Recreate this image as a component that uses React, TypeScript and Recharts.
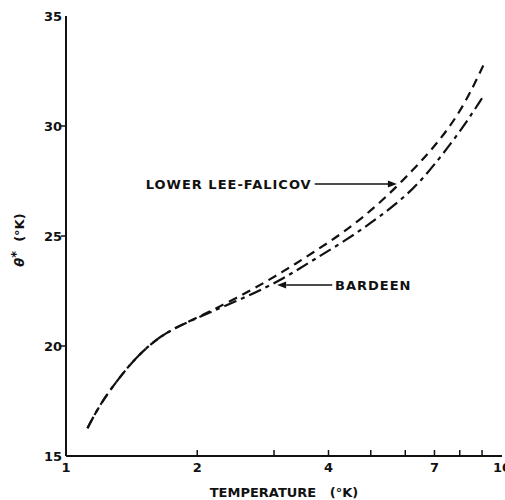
import React from "react"
import {
  LineChart,
  Line,
  XAxis,
  YAxis,
  ReferenceLine,
  ReferenceDot,
  Label,
} from "recharts"

// temperature (°K), log axis
const TEMPS = [1.12, 1.2, 1.33, 1.45, 1.63, 1.83, 2.14, 2.64, 3.15, 3.69, 4.4, 5.25, 6.26, 7.21, 8.15, 9.06]
// theta* (°K)
const LOWER_LEE_FALICOV = [16.26, 17.4, 18.6, 19.5, 20.4, 20.95, 21.56, 22.5, 23.38, 24.25, 25.25, 26.49, 28.0, 29.35, 30.85, 32.75]
const BARDEEN = [16.26, 17.4, 18.6, 19.5, 20.4, 20.95, 21.53, 22.3, 23.05, 23.91, 24.82, 25.88, 27.09, 28.55, 29.95, 31.35]

const X_TICKS = [1, 2, 3, 4, 5, 6, 7, 8, 9, 10]
const X_LABELS = [1, 2, 4, 7, 10]
const Y_TICKS = [15, 20, 25, 30, 35]

const FONT = "'DejaVu Sans', sans-serif"
const INK = "#111"

const rows = TEMPS.map((t, i) => ({ t, llf: LOWER_LEE_FALICOV[i], bardeen: BARDEEN[i] }))

function BottomTick(props: any) {
  const { x, y, payload } = props
  const v = payload.value
  return (
    <g>
      {v > 1 && v < 10 && <line x1={x} x2={x} y1={y} y2={y - 6} stroke={INK} strokeWidth={1.5} />}
      {X_LABELS.includes(v) && (
        <text x={x} y={y + 16} textAnchor="middle" fontFamily={FONT} fontWeight="bold" fontSize={13} fill={INK}>
          {v}
        </text>
      )}
    </g>
  )
}

function TopTick(props: any) {
  const { x, y, payload } = props
  const v = payload.value
  if (v <= 1 || v >= 10) return <g />
  return <line x1={x} x2={x} y1={y} y2={y + 7} stroke={INK} strokeWidth={1.5} />
}

function LeftTick(props: any) {
  const { x, y, payload } = props
  const v = payload.value
  return (
    <g>
      {v > 15 && v < 35 && <line x1={x} x2={x - 5} y1={y} y2={y} stroke={INK} strokeWidth={1.5} />}
      <text x={x - 4} y={y + 5} textAnchor="end" fontFamily={FONT} fontWeight="bold" fontSize={13} fill={INK}>
        {v}
      </text>
    </g>
  )
}

function RightTick(props: any) {
  const { x, y, payload } = props
  const v = payload.value
  if (v <= 15 || v >= 35) return <g />
  return <line x1={x} x2={x - 7} y1={y} y2={y} stroke={INK} strokeWidth={1.5} />
}

const arrowRight = (p: any) => (
  <path d={`M${p.cx},${p.cy} L${p.cx - 9},${p.cy - 3.5} L${p.cx - 9},${p.cy + 3.5} Z`} fill={INK} />
)
const arrowLeft = (p: any) => (
  <path d={`M${p.cx},${p.cy} L${p.cx + 9},${p.cy - 3.5} L${p.cx + 9},${p.cy + 3.5} Z`} fill={INK} />
)
const textEnd = (label: string) => (p: any) => (
  <text x={p.cx} y={p.cy + 5} textAnchor="end" fontFamily={FONT} fontWeight="bold" fontSize={13} letterSpacing={1} fill={INK}>
    {label}
  </text>
)
const textStart = (label: string) => (p: any) => (
  <text x={p.cx} y={p.cy + 5} textAnchor="start" fontFamily={FONT} fontWeight="bold" fontSize={13} letterSpacing={1} fill={INK}>
    {label}
  </text>
)

export default function App() {
  return (
    <div style={{ position: "absolute", left: 0, top: 0, width: 505, height: 500, background: "#fff" }}>
      <LineChart width={505} height={500} data={rows} margin={{ top: 16, right: 3, left: 0, bottom: 0 }}>
        <XAxis
          dataKey="t"
          type="number"
          scale="log"
          domain={[1, 10]}
          allowDataOverflow
          ticks={X_TICKS}
          interval={0}
          height={44}
          tickSize={0}
          tickMargin={0}
          tick={(p: any) => <BottomTick {...p} />}
          axisLine={{ stroke: INK, strokeWidth: 2 }}
        >
          <Label
            content={(p: any) => {
              const vb = p.viewBox || { x: 66, y: 456, width: 436 }
              return (
                <text
                  x={vb.x + vb.width / 2}
                  y={vb.y + 41}
                  textAnchor="middle"
                  fontFamily={FONT}
                  fontWeight="bold"
                  fontSize={13}
                  fill={INK}
                  style={{ whiteSpace: "pre" }}
                >
                  {"TEMPERATURE   (°K)"}
                </text>
              )
            }}
          />
        </XAxis>
        <XAxis
          xAxisId="top"
          orientation="top"
          dataKey="t"
          type="number"
          scale="log"
          domain={[1, 10]}
          allowDataOverflow
          ticks={X_TICKS}
          interval={0}
          height={0}
          tickSize={0}
          tickMargin={0}
          tick={(p: any) => <TopTick {...p} />}
          axisLine={{ stroke: INK, strokeWidth: 2 }}
        />
        <YAxis
          type="number"
          domain={[15, 35]}
          ticks={Y_TICKS}
          interval={0}
          width={66}
          tickSize={0}
          tickMargin={0}
          tick={(p: any) => <LeftTick {...p} />}
          axisLine={{ stroke: INK, strokeWidth: 2 }}
        >
          <Label
            content={(p: any) => {
              const vb = p.viewBox || { x: 0, y: 16, width: 66, height: 440 }
              const cx = vb.x + 24
              const cy = vb.y + vb.height / 2 + 4
              return (
                <text
                  x={cx}
                  y={cy}
                  transform={`rotate(-90 ${cx} ${cy})`}
                  textAnchor="middle"
                  fontFamily={FONT}
                  fontWeight="bold"
                  fontSize={13}
                  fill={INK}
                  style={{ whiteSpace: "pre" }}
                >
                  <tspan fontStyle="italic">θ</tspan>
                  <tspan dy={-4}>*</tspan>
                  <tspan dy={4}>{"  (°K)"}</tspan>
                </text>
              )
            }}
          />
        </YAxis>
        <YAxis
          yAxisId="right"
          orientation="right"
          type="number"
          domain={[15, 35]}
          ticks={Y_TICKS}
          interval={0}
          width={0}
          tickSize={0}
          tickMargin={0}
          tick={(p: any) => <RightTick {...p} />}
          axisLine={{ stroke: INK, strokeWidth: 2 }}
        />

        <Line
          dataKey="bardeen"
          type="basis"
          stroke={INK}
          strokeWidth={2.2}
          strokeDasharray="13 5 4 5"
          dot={false}
          isAnimationActive={false}
        />
        <Line
          dataKey="llf"
          type="basis"
          stroke={INK}
          strokeWidth={2.2}
          strokeDasharray="9 6"
          dot={false}
          isAnimationActive={false}
        />

        <ReferenceLine segment={[{ x: 3.72, y: 27.36 }, { x: 5.55, y: 27.36 }]} stroke={INK} strokeWidth={1.5} />
        <ReferenceDot x={5.74} y={27.36} r={0} shape={arrowRight} />
        <ReferenceDot x={3.66} y={27.36} r={0} shape={textEnd("LOWER LEE-FALICOV")} />

        <ReferenceLine segment={[{ x: 4.08, y: 22.77 }, { x: 3.2, y: 22.77 }]} stroke={INK} strokeWidth={1.5} />
        <ReferenceDot x={3.05} y={22.77} r={0} shape={arrowLeft} />
        <ReferenceDot x={4.14} y={22.77} r={0} shape={textStart("BARDEEN")} />
      </LineChart>
    </div>
  )
}
